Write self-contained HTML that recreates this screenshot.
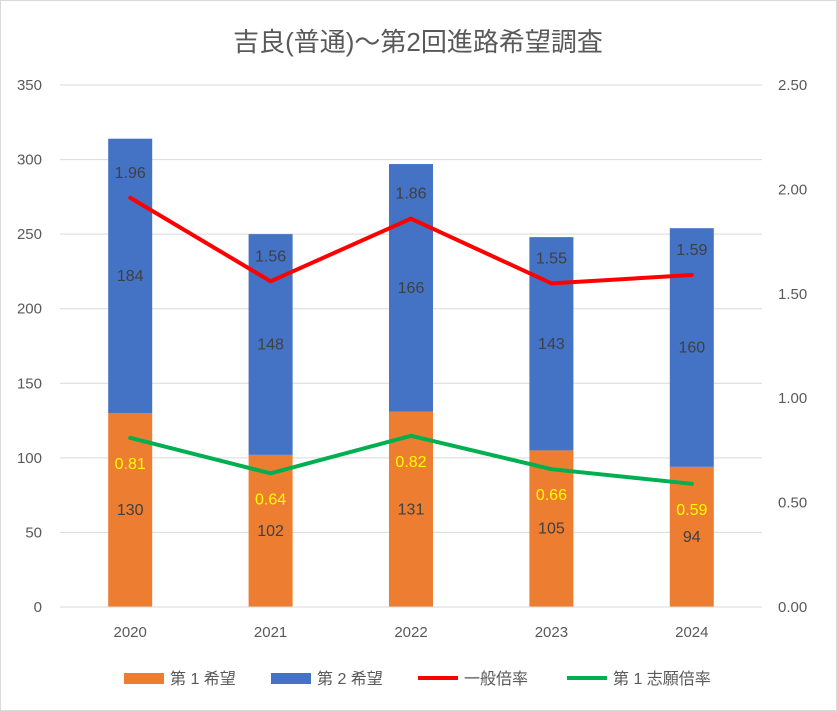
<!DOCTYPE html>
<html><head><meta charset="utf-8"><style>
body{margin:0;background:#fff}
svg{display:block;font-family:"Liberation Sans","Noto Sans CJK JP",sans-serif}
</style></head><body>
<svg id="c" width="837" height="711">
<rect x="0.5" y="0.5" width="836" height="710" fill="#fff" stroke="#d9d9d9"/>
<text x="418" y="51" text-anchor="middle" font-size="26" fill="#595959">吉良(普通)～第2回進路希望調査</text>
</svg>
<script>
const categories=["2020","2021","2022","2023","2024"];
const first=[130,102,131,105,94];
const second=[184,148,166,143,160];
const generalRate=[1.96,1.56,1.86,1.55,1.59];
const firstRate=[0.81,0.64,0.82,0.66,0.59];
const leftTicks=[0,50,100,150,200,250,300,350];
const rightTicks=[0,0.5,1.0,1.5,2.0,2.5];
const svg=document.getElementById('c');
const NS='http://www.w3.org/2000/svg';
const X0=60,X1=762,Y0=607,Y1=85;
const yL=v=>Y0-(v/350)*(Y0-Y1);
const yR=v=>Y0-(v/2.5)*(Y0-Y1);
const cw=(X1-X0)/categories.length;
const xC=i=>X0+cw*(i+0.5);
function mk(tag,a,parent){const e=document.createElementNS(NS,tag);for(const k in a)e.setAttribute(k,a[k]);(parent||svg).appendChild(e);return e;}
function txt(s,a){const e=mk('text',a);e.textContent=s;return e;}
leftTicks.forEach(t=>{
const g=mk('line',{x1:X0,x2:X1,y1:yL(t),y2:yL(t),stroke:'#d9d9d9','stroke-width':1});


const l=txt(String(t),{x:42,y:yL(t)+5,'text-anchor':'end','font-size':15,fill:'#595959'});


});
rightTicks.forEach(t=>{
const l=txt(t.toFixed(2),{x:778,y:yR(t)+5,'font-size':15,fill:'#595959'});


});
const bw=44;
categories.forEach((c,i)=>{
const x=xC(i)-bw/2;
const b1=mk('rect',{x:x,y:yL(first[i]),width:bw,height:Y0-yL(first[i]),fill:'#ED7D31'});


const b2=mk('rect',{x:x,y:yL(first[i]+second[i]),width:bw,height:yL(first[i])-yL(first[i]+second[i]),fill:'#4472C4'});


const l1=txt(String(first[i]),{x:xC(i),y:yL(first[i]/2)+5,'text-anchor':'middle','font-size':16,fill:'#404040'});


const l2=txt(String(second[i]),{x:xC(i),y:yL(first[i]+second[i]/2)+5,'text-anchor':'middle','font-size':16,fill:'#404040'});


const xl=txt(c,{x:xC(i),y:637,'text-anchor':'middle','font-size':15,fill:'#595959'});


});
const ax=mk('line',{x1:X0,x2:X1,y1:Y0,y2:Y0,stroke:'#d9d9d9'});


function line(data,color,name){
const p=mk('polyline',{points:data.map((v,i)=>xC(i)+','+yR(v)).join(' '),fill:'none',stroke:color,'stroke-width':4,'stroke-linejoin':'round','stroke-linecap':'round'});


}
line(generalRate,'#FF0000','line-general-rate');
line(firstRate,'#00B050','line-first-rate');
categories.forEach((c,i)=>{
const a=txt(generalRate[i].toFixed(2),{x:xC(i),y:yR(generalRate[i])-20,'text-anchor':'middle','font-size':16,fill:'#404040'});


const b=txt(firstRate[i].toFixed(2),{x:xC(i),y:yR(firstRate[i])+31,'text-anchor':'middle','font-size':16,fill:'#FFFF00'});


});
const leg=[['rect','#ED7D31','第 1 希望',124],['rect','#4472C4','第 2 希望',271],['line','#FF0000','一般倍率',418],['line','#00B050','第 1 志願倍率',567]];
leg.forEach(l=>{
let m;
if(l[0]==='rect'){m=mk('rect',{x:l[3],y:673,width:40,height:11,fill:l[1]});}
else{m=mk('line',{x1:l[3],x2:l[3]+40,y1:678,y2:678,stroke:l[1],'stroke-width':4});}


const t=txt(l[2],{x:l[3]+46,y:684,'font-size':16,fill:'#595959'});


});
</script>
</body></html>
